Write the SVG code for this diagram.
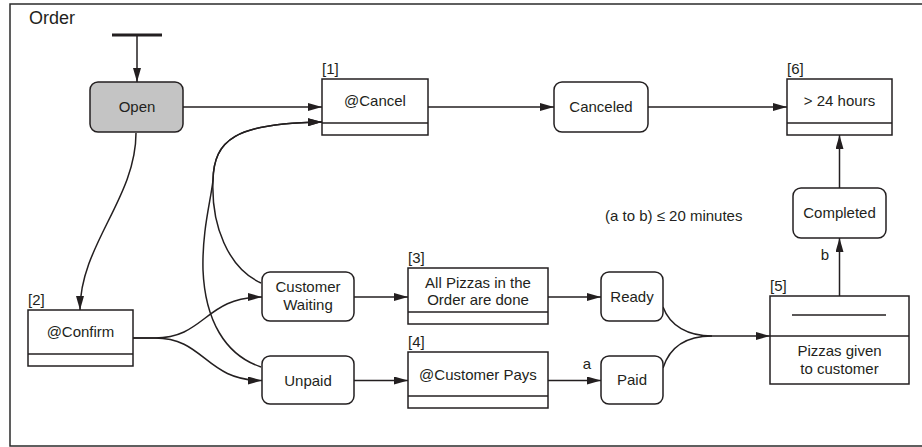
<svg xmlns="http://www.w3.org/2000/svg" width="922" height="447" viewBox="0 0 922 447">
  <style>
    text { font-family: "Liberation Sans", Arial, sans-serif; font-size: 15px; fill: #231f20; }
    .c { text-anchor: middle; }
    .state { fill: #ffffff; stroke: #231f20; stroke-width: 1.5; }
    .start { fill: #c4c4c4; stroke: #231f20; stroke-width: 1.5; }
    .box { fill: #ffffff; stroke: #231f20; stroke-width: 1.5; }
    .div { stroke: #231f20; stroke-width: 1.5; fill: none; }
    .edge { fill: none; stroke: #231f20; stroke-width: 1.5; }
    .arr { marker-end: url(#head); }
  </style>
  <defs>
    <marker id="head" viewBox="0 0 14 8" refX="14" refY="4" markerWidth="14" markerHeight="8" markerUnits="userSpaceOnUse" orient="auto">
      <path d="M0,0 L14,4 L0,8 z" fill="#231f20"/>
    </marker>
  </defs>

  <!-- enclosing frame -->
  <g id="frame">
    <path d="M924,4 H10 V446 H924" fill="none" stroke="#2b2b2b" stroke-width="1.5"/>
    <text x="29" y="24" style="font-size:18px">Order</text>
  </g>

  <!-- connectors -->
  <g id="connectors">
    <path class="edge arr" d="M137,36 V82"/>
    <path class="edge arr" d="M183,107 H322"/>
    <path class="edge arr" d="M428,107 H554"/>
    <path class="edge arr" d="M648,107 H787"/>
    <path class="edge arr" d="M839.5,188 V135"/>
    <path class="edge arr" d="M839.5,296 V238"/>
    <path class="edge arr" d="M136,133 C136,198 80,245 80,310"/>
    <path class="edge arr" d="M133,338 L155,338 C205,338 205,297 262,297"/>
    <path class="edge arr" d="M133,338 L155,338 C205,338 205,380.5 262,380.5"/>
    <path class="edge arr" d="M261,283 C228,268 211,225 213,180 C214,140 235,123 322,122"/>
    <path class="edge arr" d="M261,367 C225,355 205,320 203,270 C202,230 211,200 213,180 C214,140 235,123 322,122"/>
    <path class="edge arr" d="M354,297 H408"/>
    <path class="edge arr" d="M354,380.5 H408"/>
    <path class="edge arr" d="M548,297 H601"/>
    <path class="edge arr" d="M548,380.5 H601"/>
    <path class="edge" d="M663,307 C670,326 688,336 712,336"/>
    <path class="edge" d="M663,368 C670,346 688,336 712,336"/>
    <path class="edge arr" d="M712,336 H770"/>
    <text x="587" y="369" class="c">a</text>
    <text x="825" y="260" class="c">b</text>
  </g>

  <!-- initial pseudostate -->
  <g id="initial">
    <line x1="112" y1="35" x2="162" y2="35" stroke="#231f20" stroke-width="3"/>
  </g>

  <g id="open">
    <rect class="start" x="90" y="82" width="93" height="50" rx="8"/>
    <text x="137" y="112" class="c">Open</text>
  </g>

  <g id="cancel">
    <text x="322" y="74">[1]</text>
    <rect class="box" x="322" y="79" width="106" height="56"/>
    <line class="div" x1="322" y1="123" x2="428" y2="123"/>
    <text x="375" y="106" class="c">@Cancel</text>
  </g>

  <g id="canceled">
    <rect class="state" x="554" y="82" width="94" height="50" rx="8"/>
    <text x="601" y="112" class="c">Canceled</text>
  </g>

  <g id="hours24">
    <text x="787" y="74">[6]</text>
    <rect class="box" x="787" y="79" width="105" height="56"/>
    <line class="div" x1="787" y1="123" x2="892" y2="123"/>
    <text x="839.5" y="106" class="c">&gt; 24 hours</text>
  </g>

  <g id="completed">
    <rect class="state" x="793" y="188" width="93" height="50" rx="8"/>
    <text x="839.5" y="218" class="c">Completed</text>
  </g>

  <g id="constraint">
    <text x="605" y="221">(a to b) ≤ 20 minutes</text>
  </g>

  <g id="confirm">
    <text x="28" y="305">[2]</text>
    <rect class="box" x="28" y="310" width="105" height="56"/>
    <line class="div" x1="28" y1="354" x2="133" y2="354"/>
    <text x="80.5" y="337" class="c">@Confirm</text>
  </g>

  <g id="customer-waiting">
    <rect class="state" x="262" y="272" width="92" height="49" rx="8"/>
    <text x="308" y="292" class="c">Customer</text>
    <text x="308" y="309.5" class="c">Waiting</text>
  </g>

  <g id="unpaid">
    <rect class="state" x="262" y="356" width="92" height="48" rx="8"/>
    <text x="308" y="385.5" class="c">Unpaid</text>
  </g>

  <g id="pizzas-done">
    <text x="408" y="263">[3]</text>
    <rect class="box" x="408" y="268" width="140" height="56"/>
    <line class="div" x1="408" y1="312" x2="548" y2="312"/>
    <text x="478" y="287.5" class="c">All Pizzas in the</text>
    <text x="478" y="305" class="c">Order are done</text>
  </g>

  <g id="customer-pays">
    <text x="408" y="347">[4]</text>
    <rect class="box" x="408" y="352" width="140" height="56"/>
    <line class="div" x1="408" y1="396" x2="548" y2="396"/>
    <text x="478" y="379.5" class="c">@Customer Pays</text>
  </g>

  <g id="ready">
    <rect class="state" x="601" y="272" width="62" height="49" rx="8"/>
    <text x="632" y="301.5" class="c">Ready</text>
  </g>

  <g id="paid">
    <rect class="state" x="601" y="356" width="62" height="48" rx="8"/>
    <text x="632" y="384.5" class="c">Paid</text>
  </g>

  <g id="given">
    <text x="770" y="291">[5]</text>
    <rect class="box" x="770" y="296" width="139" height="88"/>
    <line class="div" x1="792" y1="315" x2="886" y2="315"/>
    <line class="div" x1="770" y1="336" x2="909" y2="336"/>
    <text x="839.5" y="356" class="c">Pizzas given</text>
    <text x="839.5" y="373.5" class="c">to customer</text>
  </g>
</svg>
